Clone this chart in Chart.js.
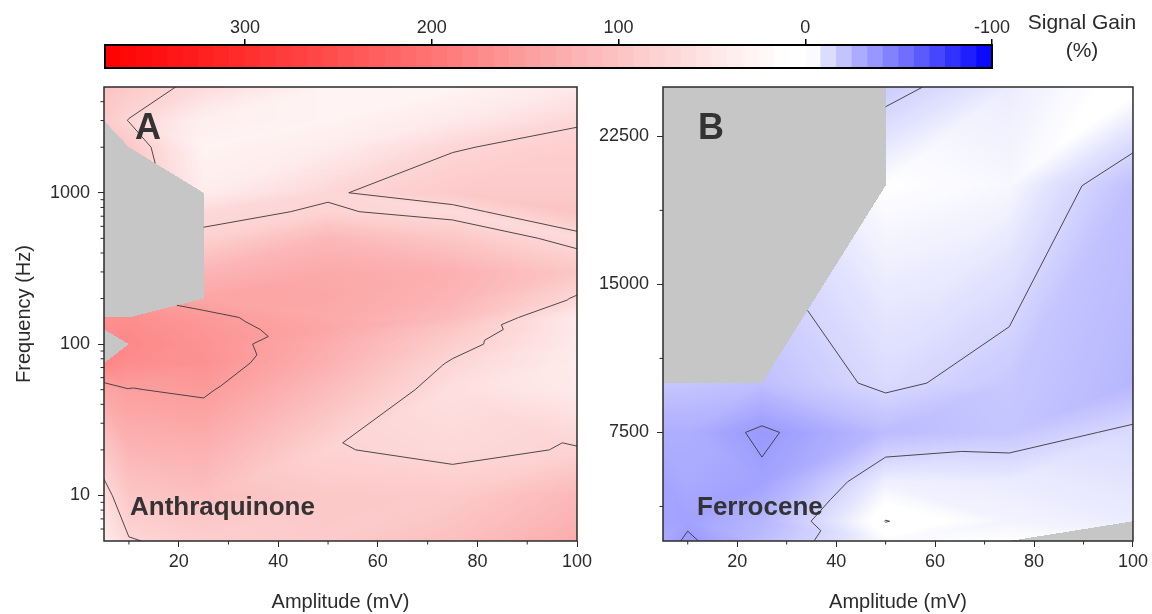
<!doctype html>
<html lang="en">
<head>
<meta charset="utf-8">
<title>Signal gain maps</title>
<script src="https://cdn.jsdelivr.net/npm/chart.js"></script>
<style>
  body { margin: 0; background: #fff; }
  #wrap { position: relative; width: 1152px; height: 614px; overflow: hidden; }
  canvas { position: absolute; }
</style>
</head>
<body>
<div id="wrap">
  <canvas id="colorbar" width="1152" height="80" style="left:0px;top:0px"></canvas>
  <canvas id="panelA" width="600" height="534" style="left:0px;top:80px"></canvas>
  <canvas id="panelB" width="572" height="534" style="left:580px;top:80px"></canvas>
</div>
<script>
// ---- data ----
const ampTicks = [20, 40, 60, 80, 100];

// Panel A: anthraquinone, rows follow freqsA (bottom to top), columns follow ampsA
const ampsA = [5, 10, 25, 50, 75, 100];
const freqsA = [5, 10, 20, 50, 75, 100, 125, 150, 200, 300, 500, 750, 1000, 2000, 3000, 5000];
const gainA = [
  [40, 73, 85, 90, 105, 130],
  [65, 95, 105, 92, 90, 115],
  [93, 120, 125, 77, 68, 77],
  [140, 149, 154, 110, 60, 45],
  [178, 170, 165, 125, 72, 42],
  [null, 175, 163, 130, 85, 45],
  [170, 172, 160, 138, 95, 46],
  [165, 168, 156, 135, 110, 44],
  [null, null, 140, 138, 120, 72],
  [null, null, 120, 135, 125, 95],
  [null, null, 80, 115, 95, 66],
  [null, null, 68, 78, 66, 100],
  [null, null, 40, 72, 90, 90],
  [null, 94, 30, 40, 73, 84],
  [90, 74, 35, 30, 45, 72],
  [100, 90, 66, 30, 28, 45]
];
const levelsA = [75, 150];
const freqTicksA = [10, 100, 1000];

// Panel B: ferrocene
const ampsB = [5, 10, 25, 50, 75, 100];
const freqsB = [2000, 3000, 5000, 7500, 10000, 20000, 25000];
const gainB = [
  [-30, -37, -23, -4, -3, null],
  [-32, -33, -25, 0.2, -6, -8],
  [-32, -30, -33, -7, -8, -10],
  [-28, -28, -37, -23, -20, -13],
  [-20, -20, -22, -13, -19, -25],
  [null, null, null, -3, -5, -22],
  [null, null, null, -18, -8, -1]
];
const levelsB = [-35, -15, 0];
const freqTicksB = [7500, 15000, 22500];

// colour bar
const barTicks = [300, 200, 100, 0, -100];
const barMin = -100, barMax = 375, barStepCount = 57;

// ---- colour map (value, r, g, b) ----
const cmapStops = [
  [375, 255, 0, 0], [300, 255, 45, 45], [200, 255, 115, 115], [150, 252, 158, 158],
  [100, 252, 195, 195], [50, 254, 230, 230], [25, 255, 246, 246], [8, 255, 255, 255],
  [-3, 255, 255, 255], [-10, 228, 228, 255], [-25, 182, 182, 255], [-50, 120, 120, 255],
  [-100, 0, 0, 255]
];
function gainColor(v) {
  const first = cmapStops[0], last = cmapStops[cmapStops.length - 1];
  if (v > first[0]) v = first[0];
  if (v < last[0]) v = last[0];
  for (let k = 0; k < cmapStops.length - 1; k++) {
    const a = cmapStops[k], b = cmapStops[k + 1];
    if (v <= a[0] && v >= b[0]) {
      const t = (a[0] - v) / (a[0] - b[0]);
      return [a[1] + t * (b[1] - a[1]), a[2] + t * (b[2] - a[2]), a[3] + t * (b[3] - a[3])];
    }
  }
  return [255, 255, 255];
}

const ink = '#2b2b2b';
const noData = [198, 198, 198];
Chart.defaults.font.family = "'Liberation Sans', Arial, sans-serif";
Chart.defaults.color = ink;

// choose the triangle split of each grid cell
function splitFor(bl, br, tl, tr) {
  const nulls = [bl, br, tl, tr].filter(v => v === null).length;
  if (nulls === 1) return (bl === null || tr === null) ? 'back' : 'slash';
  if (nulls > 1) return 'slash';
  return Math.abs(bl - tr) <= Math.abs(tl - br) ? 'slash' : 'back';
}

function contourPlugin(p) {
  return {
    id: 'contourMap',
    beforeDatasetsDraw(chart) {
      const { ctx, chartArea: ca, scales: { x, y } } = chart;
      const px = p.amps.map(a => x.getPixelForValue(a));
      const py = p.freqs.map(f => y.getPixelForValue(f));
      const z = p.gain, n = px.length, m = py.length;
      const split = [];
      for (let j = 0; j < m - 1; j++) {
        split.push([]);
        for (let i = 0; i < n - 1; i++) split[j].push(splitFor(z[j][i], z[j][i + 1], z[j + 1][i], z[j + 1][i + 1]));
      }
      const left = Math.floor(ca.left), top = Math.floor(ca.top);
      const w = Math.ceil(ca.right) - left, h = Math.ceil(ca.bottom) - top;
      const img = ctx.createImageData(w, h);
      const ok = (...vs) => vs.every(v => v !== null);
      for (let yy = 0; yy < h; yy++) {
        const cy = top + yy + 0.5;
        let j = 0;
        while (j < m - 2 && cy < py[j + 1]) j++;
        const v = Math.min(1, Math.max(0, (py[j] - cy) / (py[j] - py[j + 1])));
        for (let xx = 0; xx < w; xx++) {
          const cx = left + xx + 0.5;
          let i = 0;
          while (i < n - 2 && cx > px[i + 1]) i++;
          const u = Math.min(1, Math.max(0, (cx - px[i]) / (px[i + 1] - px[i])));
          const BL = z[j][i], BR = z[j][i + 1], TL = z[j + 1][i], TR = z[j + 1][i + 1];
          let val = null;
          if (split[j][i] === 'slash') {
            if (u >= v) { if (ok(BL, BR, TR)) val = BL + u * (BR - BL) + v * (TR - BR); }
            else { if (ok(BL, TL, TR)) val = BL + v * (TL - BL) + u * (TR - TL); }
          } else {
            if (u + v <= 1) { if (ok(BL, BR, TL)) val = BL + u * (BR - BL) + v * (TL - BL); }
            else { if (ok(BR, TR, TL)) val = TR + (1 - u) * (TL - TR) + (1 - v) * (BR - TR); }
          }
          const c = val === null ? noData : gainColor(val);
          const o = (yy * w + xx) * 4;
          img.data[o] = c[0]; img.data[o + 1] = c[1]; img.data[o + 2] = c[2]; img.data[o + 3] = 255;
        }
      }
      ctx.putImageData(img, left, top);

      // contour lines, same triangulation
      ctx.save();
      ctx.beginPath();
      ctx.rect(ca.left, ca.top, ca.right - ca.left, ca.bottom - ca.top);
      ctx.clip();
      ctx.beginPath();
      for (let j = 0; j < m - 1; j++) {
        for (let i = 0; i < n - 1; i++) {
          const P = (ii, jj) => ({ x: px[ii], y: py[jj], v: z[jj][ii] });
          const bl = P(i, j), br = P(i + 1, j), tl = P(i, j + 1), tr = P(i + 1, j + 1);
          const tris = split[j][i] === 'slash' ? [[bl, br, tr], [bl, tl, tr]] : [[bl, br, tl], [br, tr, tl]];
          tris.forEach(t => {
            if (t.some(q => q.v === null)) return;
            p.levels.forEach(L => {
              const pts = [];
              for (let e = 0; e < 3; e++) {
                const a = t[e], b = t[(e + 1) % 3];
                const va = a.v === L ? a.v + 1e-6 : a.v, vb = b.v === L ? b.v + 1e-6 : b.v;
                if ((va - L) * (vb - L) < 0) {
                  const s = (L - va) / (vb - va);
                  pts.push([a.x + s * (b.x - a.x), a.y + s * (b.y - a.y)]);
                }
              }
              if (pts.length === 2) { ctx.moveTo(pts[0][0], pts[0][1]); ctx.lineTo(pts[1][0], pts[1][1]); }
            });
          });
        }
      }
      ctx.strokeStyle = 'rgba(60,55,60,0.9)';
      ctx.lineWidth = 1;
      ctx.stroke();
      ctx.restore();
    },
    afterDatasetsDraw(chart) {
      const { ctx, chartArea: ca, scales: { x, y } } = chart;
      ctx.save();
      ctx.strokeStyle = ink;
      ctx.lineWidth = 1;
      ctx.beginPath();
      p.minorX.forEach(a => { const X = x.getPixelForValue(a); ctx.moveTo(X, ca.bottom); ctx.lineTo(X, ca.bottom + 3.5); });
      p.minorY.forEach(f => { const Y = y.getPixelForValue(f); ctx.moveTo(ca.left, Y); ctx.lineTo(ca.left - 3.5, Y); });
      ctx.stroke();
      ctx.lineWidth = 1.5;
      ctx.strokeRect(ca.left, ca.top, ca.right - ca.left, ca.bottom - ca.top);
      ctx.fillStyle = '#333';
      ctx.textBaseline = 'alphabetic';
      ctx.font = "bold 36px 'Liberation Sans', Arial, sans-serif";
      ctx.fillText(p.letter, ca.left + p.letterDx, ca.top + 52);
      ctx.font = "bold 26px 'Liberation Sans', Arial, sans-serif";
      ctx.fillText(p.name, ca.left + p.nameDx, ca.bottom - 26);
      ctx.restore();
    }
  };
}

function makePanel(id, p) {
  return new Chart(document.getElementById(id), {
    type: 'scatter',
    data: { datasets: [{ data: [], pointRadius: 0 }] },
    options: {
      responsive: false,
      animation: false,
      devicePixelRatio: 1,
      layout: { padding: { left: 0, right: p.padRight, top: 7, bottom: 0 } },
      plugins: { legend: { display: false }, tooltip: { enabled: false } },
      scales: {
        x: {
          type: 'linear', min: 5, max: 100,
          afterBuildTicks: s => { s.ticks = ampTicks.map(v => ({ value: v })); },
          afterFit: s => { s.height = 73; },
          grid: { drawOnChartArea: false, tickLength: 6, color: ink },
          border: { display: false },
          ticks: { font: { size: 18 }, color: ink, padding: 4, maxRotation: 0, callback: v => v },
          title: { display: true, text: 'Amplitude (mV)', font: { size: 20 }, color: ink, padding: 0 }
        },
        y: {
          type: p.yType, min: p.yMin, max: p.yMax,
          afterBuildTicks: s => { s.ticks = p.yTicks.map(v => ({ value: v })); },
          afterFit: s => { s.width = p.yWidth; s.paddingTop = 0; s.paddingBottom = 0; },
          grid: { drawOnChartArea: false, tickLength: 6, color: ink },
          border: { display: false },
          ticks: { font: { size: 18 }, color: ink, padding: 8, callback: v => v },
          title: { display: !!p.yTitle, text: p.yTitle || '', font: { size: 20 }, color: ink, padding: { top: 12, bottom: 0 } }
        }
      }
    },
    plugins: [contourPlugin(p)]
  });
}

makePanel('panelA', {
  amps: ampsA, freqs: freqsA, gain: gainA, levels: levelsA,
  yType: 'logarithmic', yMin: 5, yMax: 5000, yTicks: freqTicksA, yWidth: 104, padRight: 23,
  yTitle: 'Frequency (Hz)',
  minorX: [10, 30, 50, 70, 90],
  minorY: [6, 7, 8, 9, 20, 30, 40, 50, 60, 70, 80, 90, 200, 300, 400, 500, 600, 700, 800, 900, 2000, 3000, 4000],
  letter: 'A', letterDx: 31, name: 'Anthraquinone', nameDx: 26
});

makePanel('panelB', {
  amps: ampsB, freqs: freqsB, gain: gainB, levels: levelsB,
  yType: 'linear', yMin: 2000, yMax: 25000, yTicks: freqTicksB, yWidth: 83, padRight: 16,
  yTitle: '',
  minorX: [10, 30, 50, 70, 90],
  minorY: [3750, 11250, 18750],
  letter: 'B', letterDx: 35, name: 'Ferrocene', nameDx: 34
});

// ---- colour bar ----
const barStep = (barMax - barMin) / barStepCount;
const barDatasets = [];
for (let k = 0; k < barStepCount; k++) {
  const lo = barMin + k * barStep, hi = lo + barStep;
  const c = gainColor((lo + hi) / 2);
  barDatasets.push({
    data: [[lo, hi]],
    backgroundColor: `rgb(${Math.round(c[0])},${Math.round(c[1])},${Math.round(c[2])})`,
    borderWidth: 0, grouped: false, barPercentage: 1, categoryPercentage: 1
  });
}

new Chart(document.getElementById('colorbar'), {
  type: 'bar',
  data: { labels: [''], datasets: barDatasets },
  options: {
    indexAxis: 'y',
    responsive: false,
    animation: false,
    devicePixelRatio: 1,
    layout: { padding: { left: 105, right: 160, top: 0, bottom: 12 } },
    plugins: { legend: { display: false }, tooltip: { enabled: false } },
    scales: {
      x: {
        type: 'linear', position: 'top', min: barMin, max: barMax, reverse: true,
        afterBuildTicks: s => { s.ticks = barTicks.map(v => ({ value: v })); },
        afterFit: s => { s.height = 45; },
        grid: { drawOnChartArea: false, tickLength: 6, color: '#000', lineWidth: 1.5 },
        border: { display: false },
        ticks: { font: { size: 18 }, color: ink, padding: 0, callback: v => v }
      },
      y: { display: false }
    }
  },
  plugins: [{
    id: 'barFrame',
    afterDatasetsDraw(chart) {
      const { ctx, chartArea: ca } = chart;
      ctx.save();
      ctx.strokeStyle = '#000';
      ctx.lineWidth = 2;
      ctx.strokeRect(ca.left, ca.top, ca.right - ca.left, ca.bottom - ca.top);
      ctx.fillStyle = ink;
      ctx.font = "21px 'Liberation Sans', Arial, sans-serif";
      ctx.textAlign = 'center';
      ctx.textBaseline = 'alphabetic';
      ctx.fillText('Signal Gain', ca.right + 90, 29);
      ctx.fillText('(%)', ca.right + 90, 57);
      ctx.restore();
    }
  }]
});
</script>
</body>
</html>
